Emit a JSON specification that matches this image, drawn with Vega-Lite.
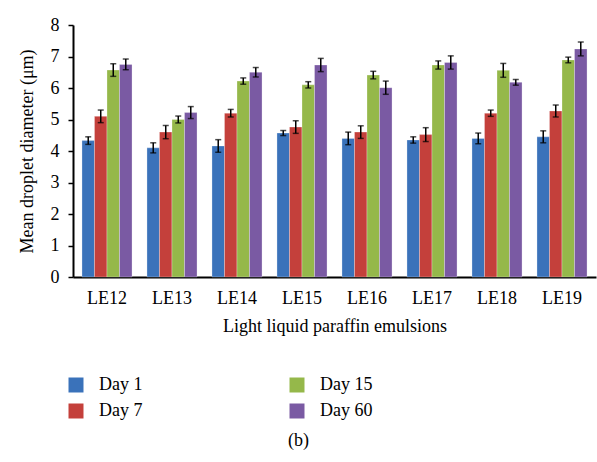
{
  "$schema": "https://vega.github.io/schema/vega-lite/v6.json",
  "width": 523,
  "height": 252,
  "autosize": "none",
  "padding": {"left": 73, "top": 25, "right": 1, "bottom": 185},
  "background": "white",
  "config": {
    "font": "Liberation Serif, DejaVu Serif, serif",
    "view": {"stroke": null},
    "axis": {"domainColor": "black", "domainWidth": 2, "grid": false, "labelColor": "black", "titleColor": "black", "labelFontSize": 18, "titleFontSize": 18, "titleFontWeight": "normal", "labelFont": "Liberation Serif, DejaVu Serif, serif", "titleFont": "Liberation Serif, DejaVu Serif, serif"},
    "legend": {"labelFont": "Liberation Serif, DejaVu Serif, serif", "labelFontSize": 18, "labelColor": "black"},
    "title": {"font": "Liberation Serif, DejaVu Serif, serif", "fontSize": 18, "fontWeight": "normal", "color": "black"}
  },
  "title": {"text": "(b)", "orient": "bottom", "anchor": "middle", "frame": "group", "dx": -36, "offset": 12},
  "data": {"values": [
    {"emulsion": "LE12", "day": "Day 1", "mean": 4.33, "lo": 4.21, "hi": 4.45},
    {"emulsion": "LE12", "day": "Day 7", "mean": 5.10, "lo": 4.90, "hi": 5.30},
    {"emulsion": "LE12", "day": "Day 15", "mean": 6.57, "lo": 6.37, "hi": 6.77},
    {"emulsion": "LE12", "day": "Day 60", "mean": 6.75, "lo": 6.58, "hi": 6.92},
    {"emulsion": "LE13", "day": "Day 1", "mean": 4.10, "lo": 3.94, "hi": 4.26},
    {"emulsion": "LE13", "day": "Day 7", "mean": 4.60, "lo": 4.39, "hi": 4.81},
    {"emulsion": "LE13", "day": "Day 15", "mean": 5.00, "lo": 4.89, "hi": 5.11},
    {"emulsion": "LE13", "day": "Day 60", "mean": 5.22, "lo": 5.03, "hi": 5.41},
    {"emulsion": "LE14", "day": "Day 1", "mean": 4.16, "lo": 3.96, "hi": 4.36},
    {"emulsion": "LE14", "day": "Day 7", "mean": 5.20, "lo": 5.08, "hi": 5.32},
    {"emulsion": "LE14", "day": "Day 15", "mean": 6.22, "lo": 6.12, "hi": 6.32},
    {"emulsion": "LE14", "day": "Day 60", "mean": 6.50, "lo": 6.35, "hi": 6.65},
    {"emulsion": "LE15", "day": "Day 1", "mean": 4.57, "lo": 4.49, "hi": 4.65},
    {"emulsion": "LE15", "day": "Day 7", "mean": 4.76, "lo": 4.56, "hi": 4.96},
    {"emulsion": "LE15", "day": "Day 15", "mean": 6.10, "lo": 6.00, "hi": 6.20},
    {"emulsion": "LE15", "day": "Day 60", "mean": 6.73, "lo": 6.52, "hi": 6.94},
    {"emulsion": "LE16", "day": "Day 1", "mean": 4.40, "lo": 4.20, "hi": 4.60},
    {"emulsion": "LE16", "day": "Day 7", "mean": 4.60, "lo": 4.40, "hi": 4.80},
    {"emulsion": "LE16", "day": "Day 15", "mean": 6.41, "lo": 6.29, "hi": 6.53},
    {"emulsion": "LE16", "day": "Day 60", "mean": 6.01, "lo": 5.80, "hi": 6.22},
    {"emulsion": "LE17", "day": "Day 1", "mean": 4.35, "lo": 4.25, "hi": 4.45},
    {"emulsion": "LE17", "day": "Day 7", "mean": 4.52, "lo": 4.30, "hi": 4.74},
    {"emulsion": "LE17", "day": "Day 15", "mean": 6.73, "lo": 6.60, "hi": 6.86},
    {"emulsion": "LE17", "day": "Day 60", "mean": 6.81, "lo": 6.60, "hi": 7.02},
    {"emulsion": "LE18", "day": "Day 1", "mean": 4.40, "lo": 4.23, "hi": 4.57},
    {"emulsion": "LE18", "day": "Day 7", "mean": 5.20, "lo": 5.10, "hi": 5.30},
    {"emulsion": "LE18", "day": "Day 15", "mean": 6.56, "lo": 6.34, "hi": 6.78},
    {"emulsion": "LE18", "day": "Day 60", "mean": 6.18, "lo": 6.09, "hi": 6.27},
    {"emulsion": "LE19", "day": "Day 1", "mean": 4.45, "lo": 4.26, "hi": 4.64},
    {"emulsion": "LE19", "day": "Day 7", "mean": 5.27, "lo": 5.08, "hi": 5.46},
    {"emulsion": "LE19", "day": "Day 15", "mean": 6.89, "lo": 6.80, "hi": 6.98},
    {"emulsion": "LE19", "day": "Day 60", "mean": 7.24, "lo": 7.02, "hi": 7.46}
  ]},
  "encoding": {
    "x": {"field": "emulsion", "type": "nominal", "scale": {"paddingInner": 0.23, "paddingOuter": 0.138},
      "axis": {"title": "Light liquid paraffin emulsions", "labelAngle": 0, "ticks": false, "labelPadding": 12, "titlePadding": 10}},
    "xOffset": {"field": "day", "type": "nominal", "sort": ["Day 1", "Day 7", "Day 15", "Day 60"], "scale": {"paddingInner": 0, "paddingOuter": 0}}
  },
  "layer": [
    {
      "mark": {"type": "bar", "stroke": "#ffffff", "strokeOpacity": 0.35, "strokeWidth": 0.8},
      "encoding": {
        "y": {"field": "mean", "type": "quantitative", "scale": {"domain": [0, 8]},
          "axis": {"title": "Mean droplet diameter (μm)", "tickCount": 8, "tickSize": 5, "tickColor": "black", "tickWidth": 1.5, "labelPadding": 9, "titlePadding": 14}},
        "color": {"field": "day", "type": "nominal",
          "scale": {"domain": ["Day 1", "Day 7", "Day 15", "Day 60"], "range": ["#3A72BA", "#C4403B", "#95B84A", "#7A5AA3"]},
          "legend": {"title": null, "orient": "none", "legendX": -6, "legendY": 351, "columns": 2, "columnPadding": 145, "rowPadding": 8, "symbolType": "square", "symbolSize": 225, "symbolStrokeWidth": 0, "labelOffset": 14, "padding": 0}}
      }
    },
    {
      "mark": {"type": "rule", "color": "black", "strokeWidth": 1.5},
      "encoding": {"y": {"field": "lo", "type": "quantitative"}, "y2": {"field": "hi"}}
    },
    {
      "mark": {"type": "tick", "color": "black", "thickness": 1.5, "size": 6},
      "encoding": {"y": {"field": "lo", "type": "quantitative"}}
    },
    {
      "mark": {"type": "tick", "color": "black", "thickness": 1.5, "size": 6},
      "encoding": {"y": {"field": "hi", "type": "quantitative"}}
    }
  ]
}
